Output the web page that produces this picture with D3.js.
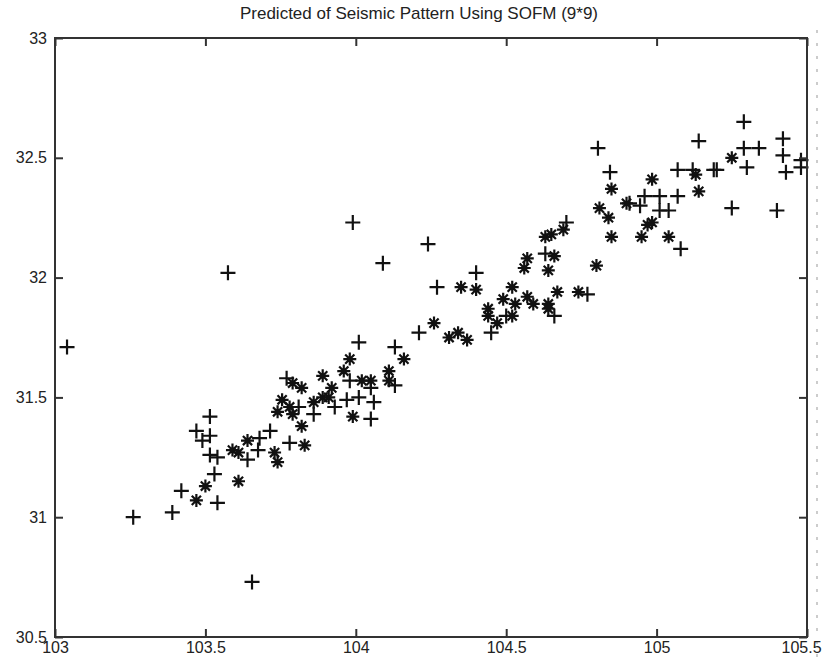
<!DOCTYPE html>
<html>
<head>
<meta charset="utf-8">
<script src="https://cdn.jsdelivr.net/npm/d3@7"></script>
<style>
  body { margin: 0; background: #fff; }
  text { font-family: "Liberation Sans", Arial, sans-serif; fill: #222; }
</style>
</head>
<body>
<div id="chart"></div>
<script>
// data (longitude, latitude)
var plusX = [103.04, 103.575, 103.99, 103.655, 103.26, 103.39, 103.42, 103.53, 103.54, 103.515,
  103.47, 103.515, 103.49, 103.515, 103.54, 103.64, 103.68, 103.715, 103.675, 103.78,
  103.77, 103.81, 103.86, 103.93, 104.01, 103.98, 103.97, 104.05, 104.06, 104.05,
  104.01, 104.13, 104.13, 104.09, 104.24, 104.40, 104.27, 104.45, 104.50, 104.66,
  104.77, 104.63, 104.70, 104.21, 104.805, 104.845, 104.91, 104.945, 104.96, 105.01,
  105.07, 105.01, 105.04, 105.08, 105.07, 105.12, 105.14, 105.19, 105.20, 105.29,
  105.29, 105.34, 105.30, 105.25, 105.42, 105.42, 105.43, 105.40, 105.48, 105.48];
var plusY = [31.71, 32.02, 32.23, 30.73, 31.00, 31.02, 31.11, 31.18, 31.06, 31.42,
  31.36, 31.34, 31.32, 31.26, 31.25, 31.24, 31.33, 31.36, 31.28, 31.31,
  31.58, 31.46, 31.43, 31.46, 31.73, 31.57, 31.49, 31.54, 31.48, 31.41,
  31.50, 31.71, 31.55, 32.06, 32.14, 32.02, 31.96, 31.77, 31.84, 31.84,
  31.93, 32.10, 32.23, 31.77, 32.54, 32.44, 32.31, 32.30, 32.34, 32.34,
  32.34, 32.28, 32.28, 32.12, 32.45, 32.45, 32.57, 32.45, 32.45, 32.65,
  32.54, 32.54, 32.46, 32.29, 32.58, 32.51, 32.44, 32.28, 32.49, 32.46];
var starX = [103.47, 103.50, 103.61, 103.59, 103.61, 103.64, 103.73, 103.74, 103.83, 103.82,
  103.79, 103.82, 103.755, 103.74, 103.78, 103.79, 103.86, 103.89, 103.89, 103.92,
  103.91, 103.96, 103.98, 103.99, 104.02, 104.05, 104.11, 104.11, 104.16, 104.35,
  104.40, 104.52, 104.49, 104.44, 104.44, 104.47, 104.53, 104.52, 104.57, 104.59,
  104.64, 104.64, 104.67, 104.74, 104.80, 104.85, 104.81, 104.84, 104.90, 104.56,
  104.57, 104.64, 104.66, 104.63, 104.65, 104.69, 104.26, 104.31, 104.34, 104.37,
  104.85, 104.985, 104.985, 104.97, 104.95, 105.04, 105.13, 105.14, 105.25];
var starY = [31.07, 31.13, 31.15, 31.28, 31.27, 31.32, 31.27, 31.23, 31.30, 31.38,
  31.56, 31.54, 31.49, 31.44, 31.46, 31.43, 31.48, 31.50, 31.59, 31.54,
  31.50, 31.61, 31.66, 31.42, 31.57, 31.57, 31.61, 31.57, 31.66, 31.96,
  31.95, 31.96, 31.91, 31.87, 31.84, 31.81, 31.89, 31.84, 31.92, 31.89,
  31.89, 31.87, 31.94, 31.94, 32.05, 32.17, 32.29, 32.25, 32.31, 32.04,
  32.08, 32.03, 32.09, 32.17, 32.18, 32.20, 31.81, 31.75, 31.77, 31.74,
  32.37, 32.41, 32.23, 32.22, 32.17, 32.17, 32.43, 32.36, 32.50];
var xTicks = [103, 103.5, 104, 104.5, 105, 105.5];
var yTicks = [30.5, 31, 31.5, 32, 32.5, 33];
var chartTitle = 'Predicted of Seismic Pattern Using SOFM (9*9)';

var width = 823, height = 659;
var marginLeft = 55, marginTop = 38, plotW = 752, plotH = 599;

var svg = d3.select('#chart').append('svg')
  .attr('width', width).attr('height', height);

var x = d3.scaleLinear().domain([103, 105.5]).range([0, plotW]);
var y = d3.scaleLinear().domain([30.5, 33]).range([plotH, 0]);

// scan artefact column at the right edge
svg.append('line')
  .attr('x1', 817).attr('x2', 817).attr('y1', 30).attr('y2', 659)
  .attr('stroke', '#ccc').attr('stroke-width', 2).attr('stroke-dasharray', '3,10');

svg.append('text')
  .attr('x', 419).attr('y', 19)
  .attr('text-anchor', 'middle')
  .style('font-size', '17px')
  .text(chartTitle);

var g = svg.append('g').attr('transform', 'translate(' + marginLeft + ',' + marginTop + ')');

// points
var plus = 'M-7.5,0H7.5M0,-7.5V7.5';
var star = 'M-6.5,0H6.5M0,-6.5V6.5M-4.6,-4.6L4.6,4.6M-4.6,4.6L4.6,-4.6';
g.selectAll('.plus').data(plusX).enter().append('path')
  .attr('class', 'plus')
  .attr('transform', (d, i) => 'translate(' + x(d) + ',' + y(plusY[i]) + ')')
  .attr('d', plus)
  .attr('stroke', '#111').attr('stroke-width', 2.2).attr('fill', 'none');
g.selectAll('.star').data(starX).enter().append('path')
  .attr('class', 'star')
  .attr('transform', (d, i) => 'translate(' + x(d) + ',' + y(starY[i]) + ')')
  .attr('d', star)
  .attr('stroke', '#111').attr('stroke-width', 2.2).attr('fill', 'none');

// axes, matlab style box with inward ticks
function styleAxis(sel) {
  sel.select('.domain').remove();
  sel.selectAll('.tick line').attr('stroke', '#333').attr('stroke-width', 2);
  sel.selectAll('.tick text').style('font-size', '16px').attr('fill', '#222');
}
var xAxisG = g.append('g').attr('transform', 'translate(0,' + plotH + ')')
  .call(d3.axisBottom(x).tickValues(xTicks).tickFormat(d3.format('')).tickSizeInner(-8).tickSizeOuter(0).tickPadding(5))
  .call(styleAxis);
// last label sits against the page edge
xAxisG.selectAll('.tick text').filter(d => d === 105.5).attr('dx', '-6');
g.append('g')
  .call(d3.axisLeft(y).tickValues(yTicks).tickFormat(d3.format('')).tickSizeInner(-8).tickSizeOuter(0).tickPadding(8))
  .call(styleAxis);
g.append('g')
  .call(d3.axisTop(x).tickValues(xTicks).tickFormat('').tickSizeInner(-8).tickSizeOuter(0))
  .call(styleAxis);
g.append('g').attr('transform', 'translate(' + plotW + ',0)')
  .call(d3.axisRight(y).tickValues(yTicks).tickFormat('').tickSizeInner(-8).tickSizeOuter(0))
  .call(styleAxis);

g.append('rect')
  .attr('width', plotW).attr('height', plotH)
  .attr('fill', 'none').attr('stroke', '#333').attr('stroke-width', 2);
</script>
</body>
</html>
